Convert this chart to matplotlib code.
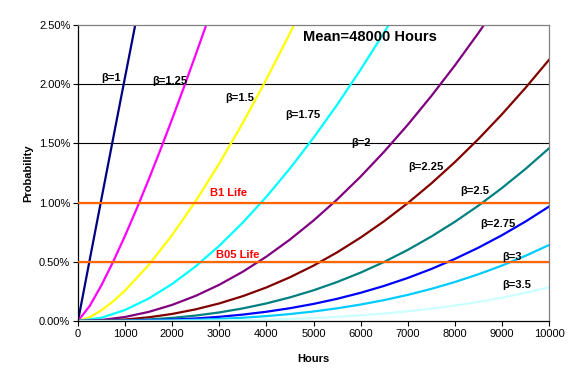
import matplotlib
matplotlib.use("Agg")
import matplotlib.pyplot as plt
from matplotlib.ticker import FuncFormatter

# hours and probability (%), one list pair per beta
t_b100 = [0, 250, 500, 750, 1000, 1215]
p_b100 = [0, 0.5195, 1.0363, 1.5504, 2.0618, 2.5]

t_b125 = [0, 250, 500, 750, 1000, 1250, 1500, 1750, 2000, 2250, 2500, 2722]
p_b125 = [0, 0.128, 0.3038, 0.5039, 0.7211, 0.9521, 1.1943, 1.4464, 1.7073, 1.9757, 2.2505, 2.5]

t_b150 = [0, 250, 500, 750, 1000, 1500, 2000, 2500, 3000, 3500, 4000, 4500, 4585]
p_b150 = [0, 0.0322, 0.0912, 0.1674, 0.2575, 0.4724, 0.7263, 1.0136, 1.3308, 1.674, 2.0413, 2.4304, 2.5]

t_b175 = [0, 500, 1000, 1500, 2000, 2500, 3000, 3500, 4000, 4500, 5000, 5500, 6000, 6500, 6595]
p_b175 = [0, 0.0277, 0.0933, 0.1894, 0.313, 0.4622, 0.6357, 0.8318, 1.0492, 1.288, 1.5476, 1.8254, 2.1229, 2.4369, 2.5]

t_b200 = [0, 500, 1000, 1500, 2000, 2500, 3000, 3500, 4000, 4500, 5000, 5500, 6000, 6500, 7000, 7500, 8000, 8500, 8618]
p_b200 = [0, 0.0085, 0.0341, 0.0767, 0.1362, 0.2128, 0.3062, 0.4165, 0.5438, 0.6878, 0.8486, 1.0257, 1.2197, 1.43, 1.6568, 1.8994, 2.1577, 2.4316, 2.5]

hours = [0, 500, 1000, 1500, 2000, 2500, 3000, 3500, 4000, 4500, 5000,
         5500, 6000, 6500, 7000, 7500, 8000, 8500, 9000, 9500, 10000]
p_b225 = [0, 0.0026, 0.0126, 0.0312, 0.0597, 0.0986, 0.1485, 0.21, 0.2835, 0.3694, 0.4676,
          0.5794, 0.7046, 0.8431, 0.9954, 1.1614, 1.3415, 1.5363, 1.7454, 1.9686, 2.2057]
p_b250 = [0, 0.0008, 0.0046, 0.0128, 0.0263, 0.0459, 0.0724, 0.1064, 0.1485, 0.1993, 0.2593,
          0.329, 0.4087, 0.499, 0.6002, 0.7131, 0.8376, 0.9738, 1.1229, 1.2841, 1.4583]
p_b275 = [0, 0.0003, 0.0017, 0.0053, 0.0116, 0.0215, 0.0354, 0.0542, 0.0781, 0.108, 0.1442,
          0.1874, 0.2381, 0.2966, 0.3634, 0.4391, 0.5242, 0.619, 0.7242, 0.8398, 0.9663]
p_b300 = [0, 0.0001, 0.0006, 0.0022, 0.0052, 0.0101, 0.0174, 0.0276, 0.0412, 0.0586, 0.0804,
          0.107, 0.1389, 0.1765, 0.2205, 0.2711, 0.329, 0.3945, 0.4679, 0.5503, 0.6416]
p_b350 = [0, 0, 0.0001, 0.0003, 0.001, 0.0022, 0.0042, 0.0073, 0.0115, 0.0174, 0.0252,
          0.0352, 0.0477, 0.0631, 0.0818, 0.1041, 0.1304, 0.1613, 0.197, 0.2379, 0.2847]

curves = [
    (t_b100, p_b100, "#000080", "\u03b2=1", 700, 2.05),
    (t_b125, p_b125, "#FF00FF", "\u03b2=1.25", 1953, 2.03),
    (t_b150, p_b150, "#FFFF00", "\u03b2=1.5", 3439, 1.88),
    (t_b175, p_b175, "#00FFFF", "\u03b2=1.75", 4777, 1.74),
    (t_b200, p_b200, "#800080", "\u03b2=2", 6000, 1.50),
    (hours, p_b225, "#800000", "\u03b2=2.25", 7389, 1.30),
    (hours, p_b250, "#008080", "\u03b2=2.5", 8429, 1.10),
    (hours, p_b275, "#0000FF", "\u03b2=2.75", 8917, 0.82),
    (hours, p_b300, "#00CCFF", "\u03b2=3", 9214, 0.54),
    (hours, p_b350, "#CCFFFF", "\u03b2=3.5", 9321, 0.30),
]

b_lives = [1.0, 0.5]
b_names = ["B1 Life", "B05 Life"]

fig = plt.figure(figsize=(5.81, 3.85), dpi=100)
ax = fig.add_axes([78/581, 1-321/385, 471/581, 296/385])

for y in [0.5, 1.0, 1.5, 2.0]:
    ax.axhline(y, color="black", lw=0.8, zorder=1)

for t, p, col, lab, lx, ly in curves:
    ax.plot(t, p, color=col, lw=1.6, zorder=2)
    ax.text(lx, ly, lab, fontsize=8, fontweight="bold", family="Liberation Sans",
            ha="center", va="center", zorder=5)

for y in b_lives:
    ax.axhline(y, color="#FF6600", lw=1.6, zorder=3)
ax.text(3185, 1.08, b_names[0], color="red", fontsize=8, fontweight="bold",
        family="Liberation Sans", ha="center", va="center", zorder=5)
ax.text(3397, 0.56, b_names[1], color="red", fontsize=8, fontweight="bold",
        family="Liberation Sans", ha="center", va="center", zorder=5)

ax.text(6200, 2.40, "Mean=48000 Hours", fontsize=10.5, fontweight="bold",
        family="Liberation Sans", ha="center", va="center", zorder=5)

ax.set_xlim(0, 10000)
ax.set_ylim(0, 2.5)
ax.set_xticks(range(0, 10001, 1000))
ax.set_yticks([0, 0.5, 1.0, 1.5, 2.0, 2.5])
ax.yaxis.set_major_formatter(FuncFormatter(lambda v, pos: "%.2f%%" % v))
ax.tick_params(direction="out", length=3.5, width=0.8, labelsize=8, pad=2)
for lbl in ax.get_xticklabels() + ax.get_yticklabels():
    lbl.set_family("Liberation Sans")

ax.spines["top"].set_color("#808080")
ax.spines["right"].set_color("#808080")
for s in ax.spines.values():
    s.set_linewidth(0.9)

ax.set_xlabel("Hours", fontsize=8, fontweight="bold", family="Liberation Sans", labelpad=11)
ax.set_ylabel("Probability", fontsize=8, fontweight="bold", family="Liberation Sans", labelpad=4)

fig.savefig("out.png", dpi=100)
